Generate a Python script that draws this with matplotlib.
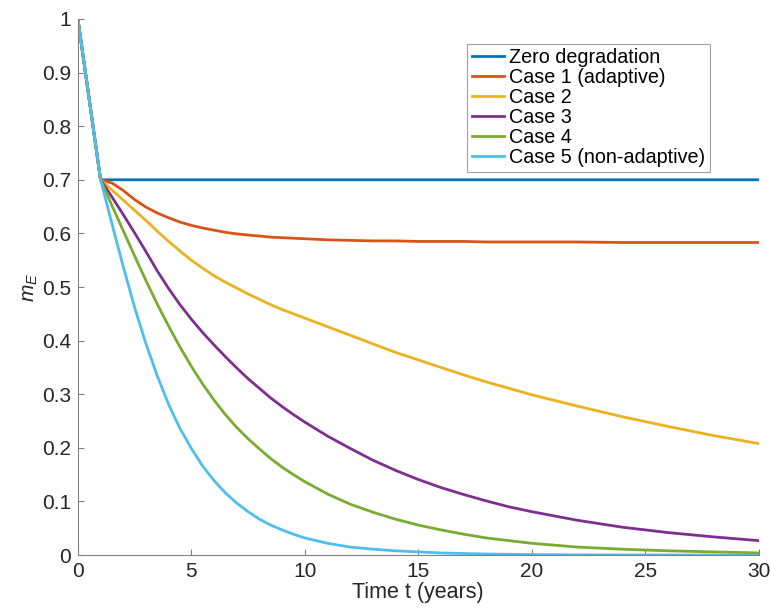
import matplotlib
matplotlib.use("Agg")
import matplotlib.pyplot as plt

plt.rcParams['font.family'] = ['Liberation Sans', 'DejaVu Sans']
plt.rcParams['mathtext.fontset'] = 'custom'
plt.rcParams['mathtext.it'] = 'Liberation Sans:italic'
plt.rcParams['mathtext.rm'] = 'Liberation Sans'

t = [0, 1, 1.5, 2, 2.5, 3, 3.5, 4, 4.5, 5, 5.5, 6, 6.5, 7, 7.5, 8, 8.5, 9,
     9.5, 10, 11, 12, 13, 14, 15, 16, 17, 18, 19, 20, 22, 24, 26, 28, 30]

zero_deg = [1.0] + [0.7] * 34
case1 = [1.0, 0.700, 0.694, 0.680, 0.663, 0.649, 0.638, 0.629, 0.621, 0.615,
         0.610, 0.606, 0.602, 0.599, 0.597, 0.595, 0.593, 0.592, 0.591, 0.590,
         0.588, 0.587, 0.586, 0.586, 0.585, 0.585, 0.585, 0.584, 0.584, 0.584,
         0.584, 0.583, 0.583, 0.583, 0.583]
case2 = [1.0, 0.700, 0.681, 0.662, 0.643, 0.624, 0.604, 0.585, 0.567, 0.550,
         0.535, 0.521, 0.509, 0.498, 0.487, 0.477, 0.467, 0.458, 0.450, 0.442,
         0.426, 0.410, 0.394, 0.378, 0.364, 0.350, 0.336, 0.323, 0.311, 0.299,
         0.278, 0.258, 0.240, 0.223, 0.208]
case3 = [1.0, 0.700, 0.668, 0.635, 0.601, 0.566, 0.530, 0.497, 0.467, 0.440,
         0.415, 0.392, 0.370, 0.349, 0.329, 0.311, 0.293, 0.277, 0.262, 0.248,
         0.222, 0.199, 0.177, 0.158, 0.141, 0.126, 0.113, 0.101, 0.090, 0.081,
         0.065, 0.052, 0.042, 0.034, 0.027]
case4 = [1.0, 0.700, 0.652, 0.605, 0.558, 0.512, 0.468, 0.427, 0.388, 0.352,
         0.319, 0.289, 0.262, 0.238, 0.217, 0.198, 0.180, 0.164, 0.150, 0.137,
         0.114, 0.095, 0.080, 0.067, 0.056, 0.047, 0.039, 0.032, 0.027, 0.022,
         0.015, 0.011, 0.008, 0.006, 0.004]
case5 = [1.0, 0.700, 0.618, 0.538, 0.462, 0.394, 0.334, 0.281, 0.236, 0.199,
         0.166, 0.139, 0.116, 0.097, 0.081, 0.067, 0.056, 0.047, 0.039, 0.032,
         0.022, 0.015, 0.011, 0.008, 0.006, 0.004, 0.003, 0.002, 0.0015, 0.001,
         0.0005, 0.0003, 0.0002, 0.0001, 0.0001]

series = [zero_deg, case1, case2, case3, case4, case5]
labels = ['Zero degradation', 'Case 1 (adaptive)', 'Case 2', 'Case 3',
          'Case 4', 'Case 5 (non-adaptive)']
colors = ['#0072BD', '#D95319', '#EDB120', '#7E2F8E', '#77AC30', '#4DBEEE']

fig = plt.figure(figsize=(7.71, 6.10), dpi=100)
ax = fig.add_axes([0.101, 0.090, 0.883, 0.879])

for y, lab, c in zip(series, labels, colors):
    ax.plot(t, y, color=c, lw=2, label=lab, solid_joinstyle='round')

ax.set_xlim(0, 30)
ax.set_ylim(0, 1)
ax.set_xticks(range(0, 31, 5))
ax.set_yticks([i / 10 for i in range(11)])
ax.set_yticklabels(['0', '0.1', '0.2', '0.3', '0.4', '0.5', '0.6', '0.7',
                    '0.8', '0.9', '1'])

for s in ['top', 'right']:
    ax.spines[s].set_visible(False)
for s in ['left', 'bottom']:
    ax.spines[s].set_color('#808080')
    ax.spines[s].set_linewidth(0.8)
ax.tick_params(direction='in', length=4.5, width=0.8, color='#808080',
               labelcolor='#262626', labelsize=15, pad=5)

ax.set_xlabel('Time t (years)', fontsize=15.5, color='#262626', labelpad=1)
ax.set_ylabel(r'$m_E$', fontsize=15, color='#262626')
ax.yaxis.set_label_coords(-0.055, 0.5)

leg = ax.legend(loc='upper left', bbox_to_anchor=(0.606, 0.928),
                bbox_transform=fig.transFigure, fontsize=14.2, frameon=True,
                fancybox=False, edgecolor='#8a8a8a', labelspacing=0.05,
                handlelength=1.62, handletextpad=0.3, borderpad=0.22,
                borderaxespad=0)
leg.get_frame().set_linewidth(0.8)

fig.savefig('out.png', dpi=100)
